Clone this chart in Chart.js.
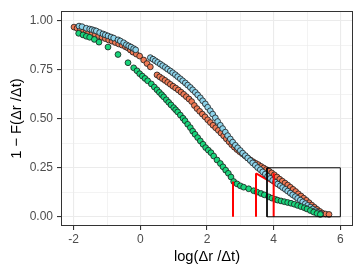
<!DOCTYPE html>
<html>
<head>
<meta charset="utf-8">
<script src="https://cdn.jsdelivr.net/npm/chart.js@4"></script>
<style>
html,body{margin:0;padding:0;background:#fff;}
#wrap{width:361px;height:276px;}
</style>
</head>
<body>
<div id="wrap"><canvas id="c" width="361" height="276"></canvas></div>
<script>
// ---- data ----
const blueX = [-1.84,-1.75,-1.62,-1.52,-1.45,-1.38,-1.32,-1.22,-1.12,-1.05,-0.97,-0.88,-0.80,-0.67,-0.60,-0.50,-0.42,-0.35,-0.28,-0.20,-0.14,
  0.30,0.38,0.45,0.52,0.60,0.67,0.75,0.82,0.90,0.97,1.05,1.12,1.20,1.27,1.35,1.42,1.50,1.57,1.65,1.72,1.80,1.87,1.95,2.02,2.10,2.17,2.25,2.32,2.40,2.47,2.55,2.62,2.70,2.77,2.85,2.92,3.00,3.07,3.15,3.22,3.30,3.37,3.45,3.52,3.60,3.67,3.75,3.82,3.90,3.97,4.05,4.12,4.20,4.27,4.35,4.42,4.50,4.57,4.65,4.72,4.80,4.87,4.95,5.02,5.10,5.17,5.25,5.32,5.40];
const blueY = [0.973,0.970,0.962,0.958,0.955,0.951,0.948,0.940,0.933,0.928,0.923,0.917,0.912,0.903,0.897,0.888,0.878,0.872,0.866,0.858,0.852,
  0.812,0.804,0.796,0.788,0.779,0.771,0.762,0.753,0.744,0.735,0.725,0.715,0.704,0.694,0.683,0.672,0.660,0.648,0.635,0.622,0.607,0.592,0.576,0.559,0.541,0.524,0.505,0.486,0.467,0.450,0.432,0.414,0.397,0.381,0.365,0.352,0.338,0.325,0.312,0.300,0.287,0.275,0.263,0.251,0.240,0.229,0.218,0.207,0.196,0.186,0.176,0.167,0.158,0.149,0.140,0.131,0.121,0.112,0.103,0.094,0.085,0.076,0.067,0.058,0.049,0.040,0.031,0.023,0.016];

const orangeX = [-1.99,-1.90,-1.80,-1.70,-1.62,-1.55,-1.45,-1.35,-1.25,-1.15,-1.05,-0.95,-0.85,-0.75,-0.65,-0.55,-0.45,-0.38,-0.30,-0.22,-0.12,-0.02,0.10,0.20,0.30,
  0.50,0.58,0.66,0.74,0.82,0.90,0.98,1.06,1.14,1.22,1.30,1.38,1.46,1.54,1.62,1.70,1.78,1.86,1.94,2.02,2.10,2.18,2.26,2.34,2.42,2.50,2.58,2.66,2.74,2.82,2.90,2.98,3.06,3.14,3.22,3.30,3.38,3.46,3.54,3.62,3.70,3.78,3.86,3.94,4.02,4.10,4.18,4.26,4.34,4.42,4.50,4.58,4.66,4.74,4.82,4.90,4.98,5.06,5.14,5.22,5.30,5.38,5.46,5.56,5.66];
const orangeY = [0.968,0.962,0.955,0.950,0.945,0.941,0.936,0.930,0.924,0.916,0.909,0.902,0.896,0.889,0.882,0.876,0.868,0.862,0.851,0.840,0.830,0.820,0.800,0.782,0.765,
  0.724,0.714,0.705,0.696,0.686,0.676,0.666,0.657,0.647,0.636,0.625,0.613,0.601,0.588,0.568,0.552,0.538,0.524,0.510,0.495,0.481,0.467,0.454,0.441,0.427,0.413,0.398,0.383,0.368,0.355,0.343,0.332,0.322,0.311,0.300,0.290,0.281,0.273,0.266,0.257,0.249,0.241,0.233,0.224,0.214,0.203,0.192,0.182,0.172,0.162,0.151,0.140,0.129,0.117,0.106,0.095,0.084,0.072,0.060,0.049,0.038,0.028,0.019,0.014,0.012];

const greenX = [-1.85,-1.72,-1.62,-1.52,-1.38,-1.24,-0.97,-0.67,-0.37,-0.20,-0.10,-0.02,0.06,0.14,0.22,0.33,0.42,0.50,0.57,0.64,0.70,0.78,0.85,0.92,1.00,1.06,1.12,1.20,1.28,1.34,1.42,1.50,1.57,1.64,1.72,1.80,1.88,1.96,2.04,2.12,2.20,2.30,2.40,2.48,2.56,2.64,2.72,2.80,2.90,3.00,3.10,3.25,3.40,3.50,3.62,3.72,3.85,3.95,4.05,4.12,4.22,4.32,4.42,4.52,4.62,4.72,4.82,4.92,5.00,5.10,5.20,5.30,5.40];
const greenY = [0.936,0.928,0.921,0.916,0.905,0.891,0.866,0.828,0.786,0.760,0.745,0.730,0.718,0.706,0.694,0.678,0.662,0.648,0.635,0.623,0.612,0.597,0.584,0.571,0.557,0.546,0.535,0.519,0.503,0.490,0.472,0.455,0.437,0.421,0.404,0.387,0.370,0.353,0.340,0.327,0.310,0.290,0.272,0.255,0.238,0.222,0.203,0.180,0.168,0.158,0.151,0.143,0.133,0.126,0.119,0.112,0.102,0.095,0.089,0.085,0.081,0.077,0.073,0.069,0.064,0.058,0.052,0.046,0.040,0.032,0.024,0.017,0.012];

// red cut-off markers and tail lines
const cutX = [2.78, 3.47, 4.0];
const cutY = [0.18, 0.222, 0.222];
const greenTailX = [2.78, 3.0, 3.3, 3.6, 4.0, 4.4, 4.8, 5.2, 5.4];
const greenTailY = [0.18, 0.160, 0.140, 0.120, 0.094, 0.076, 0.055, 0.026, 0.012];
const blueTailX = [3.47, 3.8, 4.2, 4.6, 5.0, 5.35];
const blueTailY = [0.222, 0.19, 0.148, 0.104, 0.057, 0.017];
const orangeTailX = [4.0, 4.3, 4.6, 4.9, 5.2, 5.5];
const orangeTailY = [0.222, 0.182, 0.140, 0.096, 0.052, 0.016];

// zoom box
const boxX = [3.8, 6.0, 6.0, 3.8, 3.8];
const boxY = [0.0, 0.0, 0.25, 0.25, 0.0];

const xTicks = [-2, 0, 2, 4, 6];
const yTicks = [0, 0.25, 0.5, 0.75, 1.0];

function pts(xs, ys){ return xs.map((x,i)=>({x:x, y:ys[i]})); }

const datasets = [];
datasets.push({data: pts(boxX, boxY), showLine: true, borderColor: '#000', borderWidth: 1, pointRadius: 0, fill: false, order: 0});
cutX.forEach((cx, i) => {
  datasets.push({data: [{x: cx, y: 0}, {x: cx, y: cutY[i]}], showLine: true, borderColor: '#ff0000', borderWidth: 2, pointRadius: 0, fill: false, order: 1});
});
const ptStyle = {pointStyle: 'circle', pointRadius: 2.9, pointBorderWidth: 0.8, pointBorderColor: '#1a1a1a', showLine: false};
datasets.push(Object.assign({data: pts(greenX, greenY), pointBackgroundColor: '#19d47b', order: 2}, ptStyle));
datasets.push(Object.assign({data: pts(blueX, blueY), pointBackgroundColor: '#8dd3ea', order: 3}, ptStyle));
datasets.push(Object.assign({data: pts(orangeX, orangeY), pointBackgroundColor: '#ef7a55', order: 4}, ptStyle));
[[greenTailX, greenTailY], [blueTailX, blueTailY], [orangeTailX, orangeTailY]].forEach(t => {
  datasets.push({data: pts(t[0], t[1]), showLine: true, borderColor: '#ff0000', borderWidth: 2, pointRadius: 0, fill: false, order: 5});
});

const panelBorder = {
  id: 'panelBorder',
  afterDraw(chart) {
    const {ctx, chartArea: a} = chart;
    ctx.save();
    ctx.strokeStyle = '#333333';
    ctx.lineWidth = 1;
    ctx.strokeRect(Math.round(a.left) + 0.5, Math.round(a.top) + 0.5, Math.round(a.right - a.left) - 1, Math.round(a.bottom - a.top) - 1);
    ctx.restore();
  }
};

const isMajorX = v => xTicks.some(t => Math.abs(t - v) < 1e-6);
const isMajorY = v => yTicks.some(t => Math.abs(t - v) < 1e-6);

new Chart(document.getElementById('c'), {
  type: 'scatter',
  data: {datasets: datasets},
  plugins: [panelBorder],
  options: {
    responsive: false,
    animation: false,
    devicePixelRatio: 1,
    layout: {padding: {top: 7, right: 8, left: 0, bottom: 0}},
    plugins: {legend: {display: false}, tooltip: {enabled: false}},
    elements: {line: {tension: 0}},
    scales: {
      x: {
        type: 'linear', min: -2.38, max: 6.38,
        afterFit(s) { s.height = 50; },
        ticks: {
          stepSize: 1, includeBounds: false, autoSkip: false, maxRotation: 0,
          color: '#4d4d4d', font: {family: 'Liberation Sans, Arial, sans-serif', size: 12}, padding: 2,
          callback: v => isMajorX(v) ? String(v) : ''
        },
        grid: {
          color: '#ebebeb',
          lineWidth: c => isMajorX(c.tick.value) ? 1.1 : 0.6,
          tickColor: c => isMajorX(c.tick.value) ? '#333333' : 'rgba(0,0,0,0)',
          tickLength: 4, drawTicks: true
        },
        border: {display: false},
        title: {display: true, text: 'log(Δr /Δt)', color: '#000', font: {family: 'Liberation Sans, Arial, sans-serif', size: 14.7}, padding: {top: 0, bottom: 10}}
      },
      y: {
        type: 'linear', min: -0.047, max: 1.049,
        afterFit(s) { s.width = 61; },
        ticks: {
          stepSize: 0.125, includeBounds: false, autoSkip: false,
          color: '#4d4d4d', font: {family: 'Liberation Sans, Arial, sans-serif', size: 12}, padding: 4,
          callback: v => isMajorY(v) ? v.toFixed(2) : ''
        },
        grid: {
          color: '#ebebeb',
          lineWidth: c => isMajorY(c.tick.value) ? 1.1 : 0.6,
          tickColor: c => isMajorY(c.tick.value) ? '#333333' : 'rgba(0,0,0,0)',
          tickLength: 4, drawTicks: true
        },
        border: {display: false},
        title: {display: true, text: '1 − F(Δr /Δt)', color: '#000', font: {family: 'Liberation Sans, Arial, sans-serif', size: 14.7}, padding: {top: 8, bottom: 0}}
      }
    }
  }
});
</script>
</body>
</html>
